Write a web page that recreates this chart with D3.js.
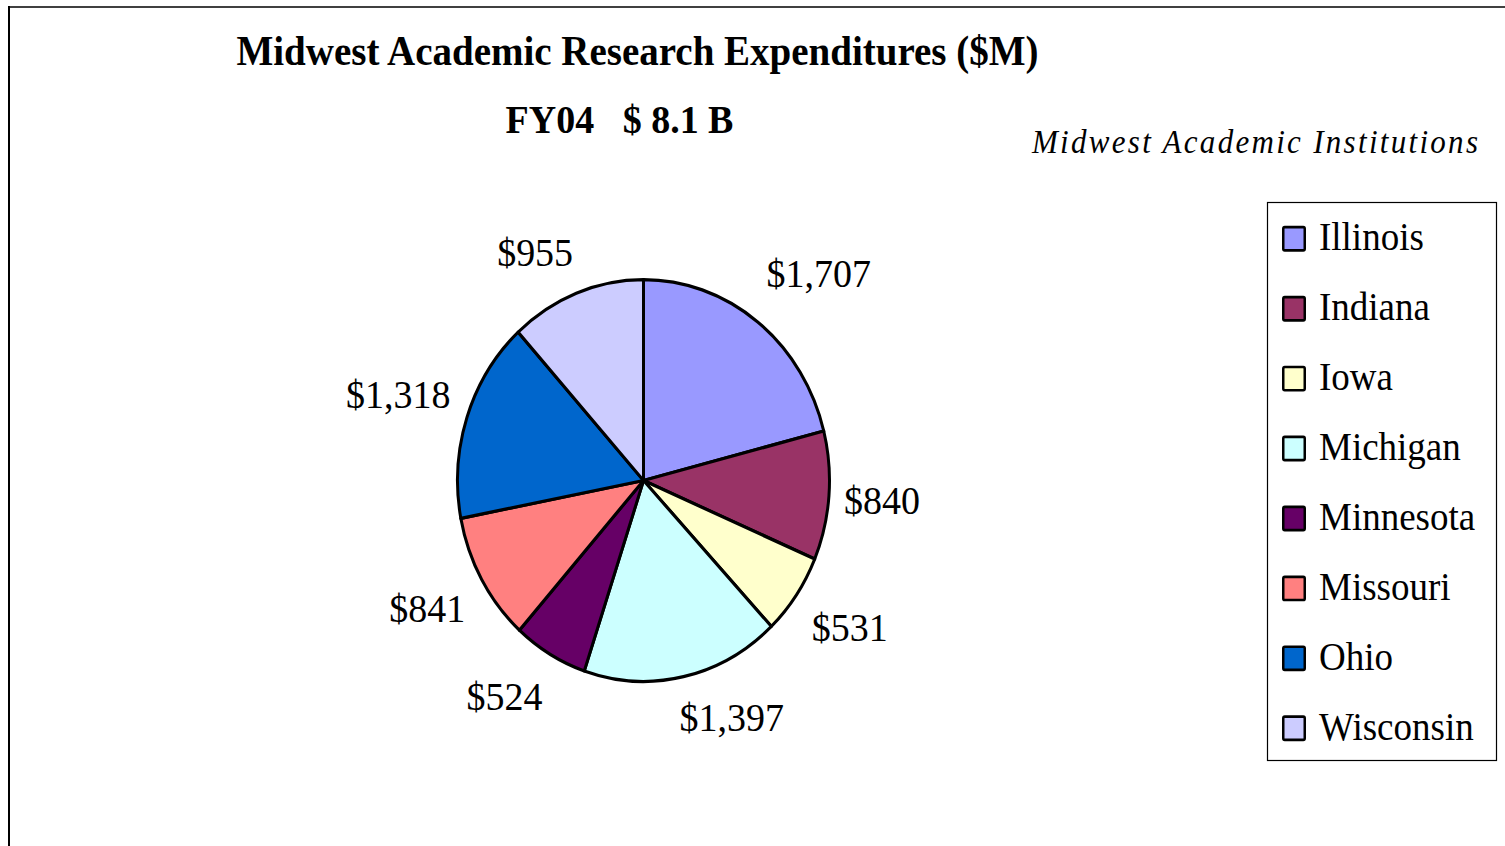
<!DOCTYPE html>
<html>
<head>
<meta charset="utf-8">
<script src="https://d3js.org/d3.v7.min.js"></script>
<style>
  body { margin: 0; background: #fff; }
  svg { display: block; }
  text { font-family: "Liberation Serif", "Times New Roman", serif; fill: #000; }
</style>
</head>
<body>
<svg id="chart" width="1505" height="846"></svg>
<script>
// data
var states = ["Illinois", "Indiana", "Iowa", "Michigan", "Minnesota", "Missouri", "Ohio", "Wisconsin"];
var spending = [1707, 840, 531, 1397, 524, 841, 1318, 955]; // $M, FY04
var colors = ["#9999FF", "#993366", "#FFFFCC", "#CCFFFF", "#660066", "#FF8080", "#0066CC", "#CCCCFF"];
var titleLines = ["Midwest Academic Research Expenditures ($M)", "FY04   $ 8.1 B"];
var subtitle = "Midwest Academic Institutions";

var svg = d3.select("#chart"),
    width = 1505,
    height = 846,
    ky = 1.08,            // the original picture is stretched a bit vertically
    cx = 643.5, cy = 480.5,
    radius = 186,
    labelGap = 14;

// -------------------------------------------------------------
// frame of the chart area (only top and left edges are visible)
svg.append("line")
    .attr("x1", 8).attr("x2", width)
    .attr("y1", 7).attr("y2", 7)
    .attr("stroke", "#404040").attr("stroke-width", 2);
svg.append("line")
    .attr("x1", 9).attr("x2", 9)
    .attr("y1", 6).attr("y2", height)
    .attr("stroke", "#000").attr("stroke-width", 2);

// -------------------------------------------------------------
// titles
svg.selectAll(".title")
    .data(titleLines)
    .join("text")
    .attr("class", "title")
    .attr("transform", (d, i) => `translate(${i == 0 ? 637.5 : 619.5},${i == 0 ? 65 : 133}) scale(1,${ky})`)
    .attr("text-anchor", "middle")
    .style("font-size", (d, i) => i == 0 ? "39px" : "38px")
    .style("font-weight", "bold")
    .style("white-space", "pre")
    .text(d => d);

svg.append("text")
    .attr("transform", `translate(1032,153) scale(1,${ky})`)
    .style("font-size", "31px")
    .style("font-style", "italic")
    .style("letter-spacing", "2.3px")
    .text(subtitle);

// -------------------------------------------------------------
// the pie
var pie = d3.pie().sort(null).value(d => d);
var arcs = pie(spending);
var arc = d3.arc().innerRadius(0).outerRadius(radius);

var pieG = svg.append("g")
    .attr("transform", `translate(${cx},${cy}) scale(1,${ky})`);

pieG.selectAll("path")
    .data(arcs)
    .join("path")
    .attr("d", arc)
    .attr("fill", (d, i) => colors[i])
    .attr("stroke", "#000")
    .attr("stroke-width", 3)
    .attr("stroke-linejoin", "round");

// labels outside the slices: pushed out by half of their box along the mid angle,
// and sideways for slices near the top and bottom (like excel does)
var fmt = d3.format("$,");
var labels = pieG.selectAll(".label")
    .data(arcs)
    .join("text")
    .attr("class", "label")
    .attr("text-anchor", "middle")
    .attr("dy", "0.33em")
    .style("font-size", "38px")
    .text(d => fmt(d.value));

labels.each(function (d) {
    var a = (d.startAngle + d.endAngle) / 2,
        s = Math.sin(a), c = Math.cos(a),
        w = this.getComputedTextLength(),
        h = 28,
        half = (w / 2) * Math.abs(s) + (h / 2) * Math.abs(c),
        dist = radius + labelGap + half,
        push = 0.8 * (w / 2) * c * c * Math.sign(s);
    d3.select(this)
        .attr("x", dist * s + push)
        .attr("y", -dist * c);
});

// -------------------------------------------------------------
// legend
var legendY = d3.scalePoint().domain(states).range([238.5, 728]);

svg.append("rect")
    .attr("x", 1267.5).attr("y", 202.5)
    .attr("width", 229).attr("height", 558)
    .attr("fill", "none")
    .attr("stroke", "#000")
    .attr("stroke-width", 1.2);

var items = svg.selectAll(".legend-item")
    .data(states)
    .join("g")
    .attr("class", "legend-item")
    .attr("transform", d => `translate(0,${legendY(d)}) scale(1,${ky})`);

items.append("rect")
    .attr("x", 1283.25).attr("y", -10.5)
    .attr("width", 21.5).attr("height", 21.5)
    .attr("rx", 1.5)
    .attr("fill", (d, i) => colors[i])
    .attr("stroke", "#000")
    .attr("stroke-width", 2.5);

items.append("text")
    .attr("x", 1319)
    .attr("dy", "0.3em")
    .style("font-size", "37px")
    .text(d => d);
</script>
</body>
</html>
